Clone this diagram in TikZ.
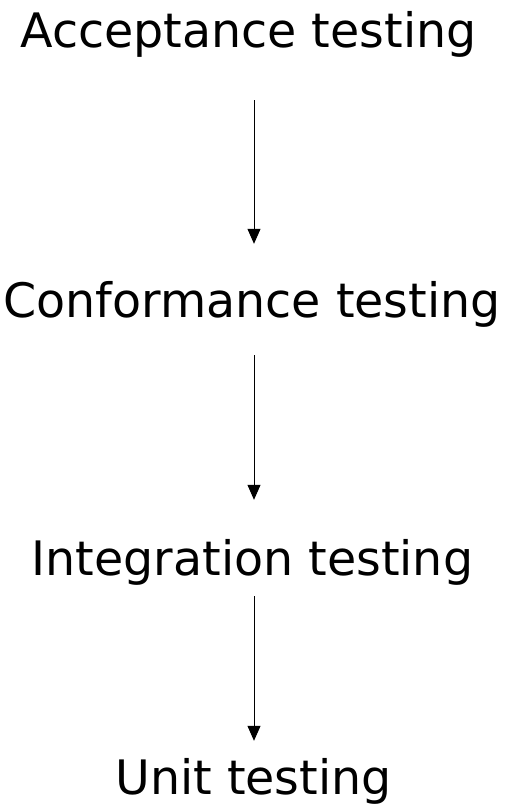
\documentclass[tikz,border=0pt]{standalone}
\usepackage{fontspec}
\setmainfont{DejaVu Sans}
\usetikzlibrary{arrows.meta}
\begin{document}
\begin{tikzpicture}[x=1pt,y=-1pt,
  label/.style={anchor=base,inner sep=0pt,text height=35pt,text depth=11pt,font=\fontsize{47.5}{50}\selectfont},
  flow/.style={-{Triangle[length=15pt,width=13pt]},line width=1pt,black}]
\useasboundingbox (0,0) rectangle (519,806);
\node[label] (acc) at (248.5,47) {Acceptance testing};
\node[label] (conf) at (252,317) {Conformance testing};
\node[label] (int) at (252.5,575) {Integration testing};
\node[label] (unit) at (253.5,794) {Unit testing};
\draw[flow,shorten <=42pt,shorten >=38pt] ([xshift=5.5pt]acc.south) -- ([xshift=2pt]conf.north);
\draw[flow,shorten <=27pt,shorten >=40pt] ([xshift=2pt]conf.south) -- ([xshift=1.5pt]int.north);
\draw[flow,shorten <=10pt,shorten >=18pt] ([xshift=1.5pt]int.south) -- ([xshift=0.5pt]unit.north);
\end{tikzpicture}
\end{document}
